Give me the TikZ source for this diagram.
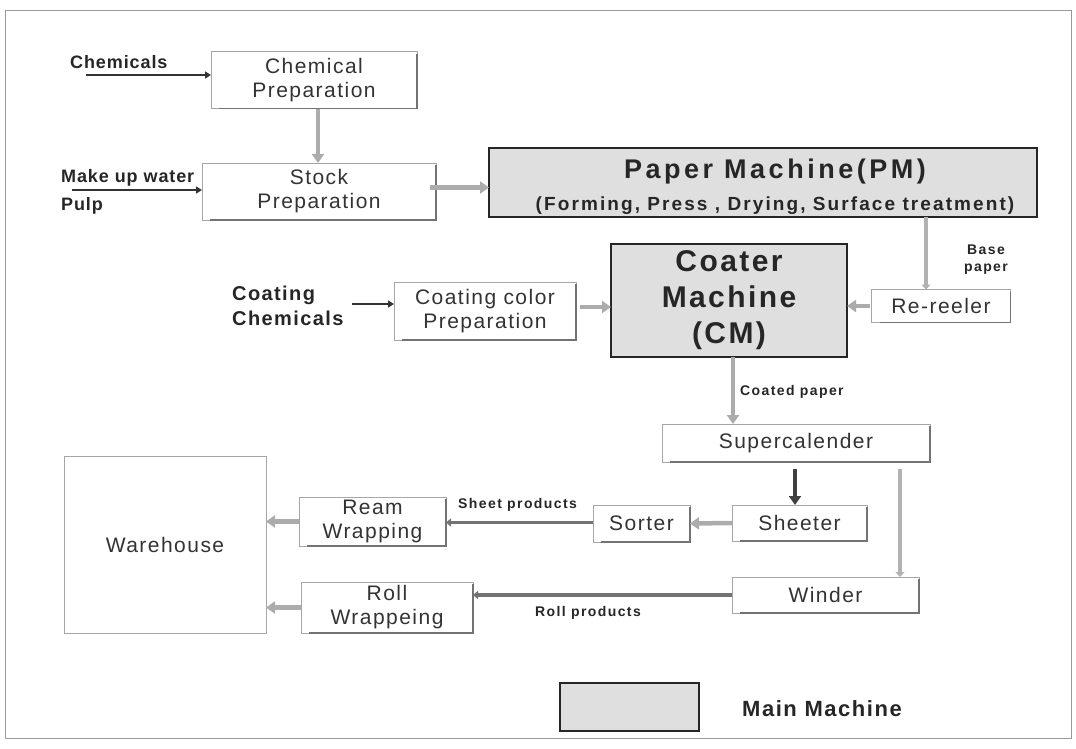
\documentclass[tikz,border=0pt]{standalone}
\usepackage{fontspec}
\setmainfont{Liberation Sans}
\usetikzlibrary{arrows.meta}
\begin{document}
\begin{tikzpicture}[x=1pt,y=-1pt,
  box/.style={draw=gray!70,line width=0.9pt,fill=white,inner sep=0pt,outer sep=0pt,align=center,font=\addfontfeatures{LetterSpace=7}\fontsize{21}{24}\selectfont,text=black!80},
  mainbox/.style={draw=black!85,line width=2.6pt,fill=gray!25,inner sep=0pt,outer sep=0pt,align=center,text=black!85},
  lbl/.style={font=\bfseries\addfontfeatures{LetterSpace=5}\fontsize{18}{22}\selectfont,text=black!85,inner sep=0pt,align=left},
  small/.style={font=\bfseries\addfontfeatures{LetterSpace=10}\fontsize{14}{17}\selectfont,text=black!85,inner sep=0pt,align=left},
  fat/.style={line width=4.5pt,draw=gray!65,-{Triangle[length=9pt,width=12pt]}},
  dark/.style={line width=4pt,draw=black!75,-{Triangle[length=9pt,width=12pt]}},
  thin/.style={line width=2.6pt,draw=black!80,-{Triangle[length=6pt,width=7pt]}},
  thinline/.style={line width=3.5pt,draw=black!55,-{Triangle[length=5pt,width=8pt]}},
  vline/.style={line width=4.5pt,draw=gray!60,-{Triangle[length=5pt,width=9pt]}},
  shade/.style={draw=black!55,line width=1.4pt}]
\useasboundingbox (0,0) rectangle (1076,748);
\draw[gray!80,line width=0.8pt] (5,10) rectangle (1071,738);

% nodes
\node[box,minimum width=206,minimum height=57] (chemprep) at (314,80) {Chemical\\Preparation};
\node[box,minimum width=234,minimum height=57] (stock) at (319,191.5) {Stock\\Preparation};
\node[mainbox,minimum width=548,minimum height=69,font=\bfseries\addfontfeatures{LetterSpace=11}\fontsize{19}{32}\selectfont] (pm) at (763,182.5) {\raisebox{-4pt}[\height][\depth]{\hspace*{24pt}\addfontfeatures{LetterSpace=13}\fontsize{27}{30}\selectfont Paper Machine(PM)}\\\raisebox{-4pt}[\height][\depth]{\hspace*{24pt}(Forming, Press , Drying, Surface treatment)}};
\node[mainbox,minimum width=236,minimum height=113,font=\bfseries\addfontfeatures{LetterSpace=8}\fontsize{30}{36}\selectfont] (cm) at (729,300.5) {Coater\\Machine\\(CM)};
\node[box,minimum width=182,minimum height=58] (ccp) at (485,311) {Coating color\\Preparation};
\node[box,minimum width=139,minimum height=33] (rr) at (941,306) {Re-reeler};
\node[box,minimum width=268,minimum height=38] (sc) at (796,443) {Supercalender};
\node[box,minimum width=135,minimum height=36] (sheeter) at (799.5,523) {Sheeter};
\node[box,minimum width=97,minimum height=37] (sorter) at (641.5,523.5) {Sorter};
\node[box,minimum width=147,minimum height=49] (ream) at (372.5,521.5) {Ream\\Wrapping};
\node[box,minimum width=187,minimum height=36] (winder) at (825.5,595) {Winder};
\node[box,minimum width=172,minimum height=51] (roll) at (387,607.5) {Roll\\Wrappeing};
\node[box,minimum width=202,minimum height=177] (wh) at (165,544.5) {Warehouse};
\node[mainbox,minimum width=139,minimum height=48] (legend) at (629.5,707) {};
\node[anchor=west,font=\bfseries\addfontfeatures{LetterSpace=7}\fontsize{22}{26}\selectfont,text=black!85,inner sep=0pt] (legtxt) at (742,709) {Main Machine};

\foreach \n in {chemprep,stock,ccp,rr,sc,sheeter,sorter,ream,winder,roll}
  \draw[shade] ([yshift=-2]\n.north east) -- (\n.south east) -- ([xshift=8]\n.south west);

% labels
\node[lbl,anchor=west] (chemlbl) at (70,62) {Chemicals};
\node[lbl,anchor=west] (mklbl) at (61,178) {Make up water};
\node[lbl,anchor=west] (pulplbl) at (61,206) {Pulp};
\node[lbl,anchor=west,font=\bfseries\addfontfeatures{LetterSpace=7}\fontsize{20}{25}\selectfont] (cclbl) at (232,306) {Coating\\Chemicals};
\node[small,align=center] (baselbl) at (986,260) {Base\\paper};
\node[small,anchor=west] (coatedlbl) at (740,392) {Coated paper};
\node[small,anchor=west] (sheetlbl) at (458,505) {Sheet products};
\node[small,anchor=west] (rolllbl) at (535,613) {Roll products};

% inputs
\coordinate (chemin) at (86,75);
\coordinate (mkin) at (72,190);
\coordinate (ccin) at (352,304);
\draw[thin] (chemin) -- (chemin -| chemprep.west);
\draw[thin] (mkin) -- (mkin -| stock.west);
\draw[thin] (ccin) -- (ccin -| ccp.west);

% flows
\draw[fat] ([xshift=4]chemprep.south) -- ([xshift=4]chemprep.south |- stock.north);
\draw[fat] ([xshift=-6,yshift=4]stock.east) -- ([yshift=4]stock.east -| pm.west);
\draw[vline] ([xshift=-15]rr.north |- pm.south) -- ([xshift=-15]rr.north);
\draw[fat] ([xshift=-2]rr.west) -- (rr.west -| cm.east);
\draw[fat] ([xshift=4,yshift=4]ccp.east) -- ([yshift=4]ccp.east -| cm.west);
\draw[fat] ([xshift=4]cm.south) -- ([xshift=4]cm.south |- sc.north);
\draw[dark] ([xshift=-4.5,yshift=-7]sheeter.north |- sc.south) -- ([xshift=-4.5]sheeter.north);
\draw[vline] ([xshift=74.5,yshift=-7]winder.north |- sc.south) -- ([xshift=74.5]winder.north);
\draw[fat] (sheeter.west) -- (sorter.east);
\draw[thinline] ([yshift=1]sorter.west) -- ([yshift=1]sorter.west -| ream.east);
\draw[thinline] (winder.west) -- (winder.west -| roll.east);
\draw[fat] (ream.west) -- (ream.west -| wh.east);
\draw[fat] (roll.west) -- (roll.west -| wh.east);
\end{tikzpicture}
\end{document}
